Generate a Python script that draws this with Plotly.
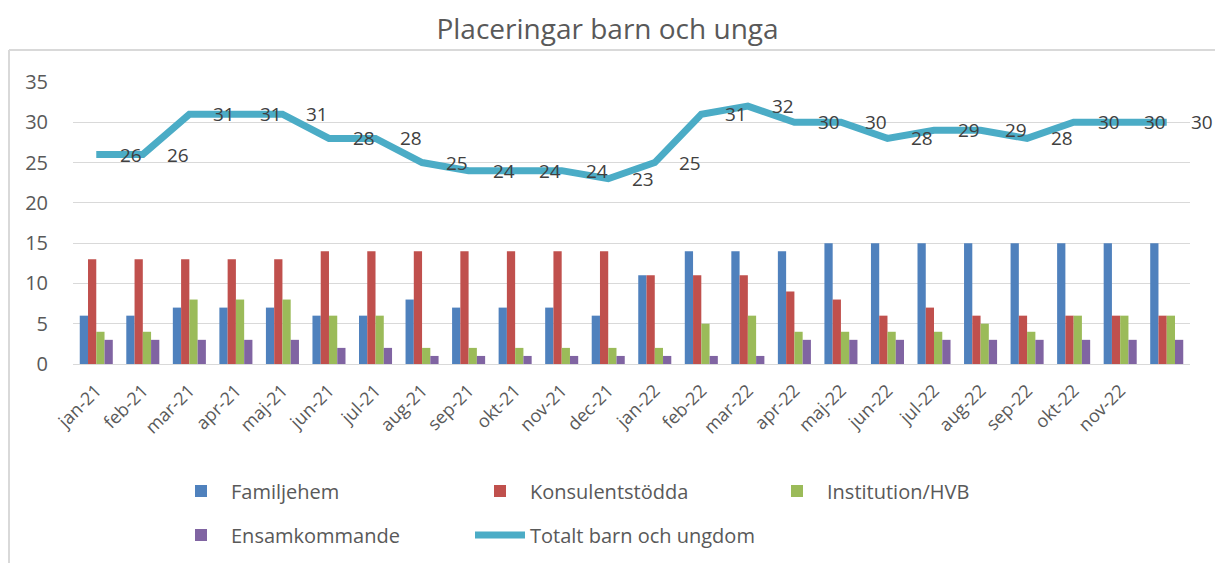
import plotly.graph_objects as go

months = ["jan-21", "feb-21", "mar-21", "apr-21", "maj-21", "jun-21", "jul-21", "aug-21",
          "sep-21", "okt-21", "nov-21", "dec-21", "jan-22", "feb-22", "mar-22", "apr-22",
          "maj-22", "jun-22", "jul-22", "aug-22", "sep-22", "okt-22", "nov-22", ""]
familjehem = [6, 6, 7, 7, 7, 6, 6, 8, 7, 7, 7, 6, 11, 14, 14, 14, 15, 15, 15, 15, 15, 15, 15, 15]
konsulent = [13, 13, 13, 13, 13, 14, 14, 14, 14, 14, 14, 14, 11, 11, 11, 9, 8, 6, 7, 6, 6, 6, 6, 6]
institution = [4, 4, 8, 8, 8, 6, 6, 2, 2, 2, 2, 2, 2, 5, 6, 4, 4, 4, 4, 5, 4, 6, 6, 6]
ensam = [3, 3, 3, 3, 3, 2, 2, 1, 1, 1, 1, 1, 1, 1, 1, 3, 3, 3, 3, 3, 3, 3, 3, 3]
totalt = [26, 26, 31, 31, 31, 28, 28, 25, 24, 24, 24, 23, 25, 31, 32, 30, 30, 28, 29, 29, 28, 30, 30, 30]
y_ticks = [0, 5, 10, 15, 20, 25, 30, 35]

x = list(range(len(months)))
FONT = "Open Sans"
GRAY = "#595959"
W, H = 1215, 563
ML, MR, MT, MB = 73, 25, 82, 199
PW, PH = W - ML - MR, H - MT - MB

fig = go.Figure()
bar_series = [
    ("Familjehem", familjehem, "#4F81BD", "legend"),
    ("Konsulentstödda", konsulent, "#C0504D", "legend2"),
    ("Institution/HVB", institution, "#9BBB59", "legend3"),
    ("Ensamkommande", ensam, "#8064A2", "legend4"),
]
for name, vals, col, lg in bar_series:
    fig.add_trace(go.Bar(x=x, y=vals, name=name, legend=lg,
                         marker=dict(color=col, line=dict(width=0))))

fig.add_trace(go.Scatter(x=x, y=totalt, name="Totalt barn och ungdom", mode="lines", legend="legend5",
                         line=dict(color="#4BACC6", width=7)))

for xi, v in zip(x, totalt):
    fig.add_annotation(x=xi, y=v, text=str(v), showarrow=False, xshift=35,
                       font=dict(family=FONT, size=19, color="#404040"))

# outer frame lines
fy = (H - MB - 50) / PH
fx = (9 - ML) / PW
fig.add_shape(type="line", xref="paper", yref="paper", x0=fx, x1=(W - ML) / PW,
              y0=fy, y1=fy, line=dict(color="#D9D9D9", width=2))
fig.add_shape(type="line", xref="paper", yref="paper", x0=fx, x1=fx,
              y0=fy, y1=(H - MB - H - 10) / PH, line=dict(color="#D9D9D9", width=2))

def leg(text_x, text_y):
    return dict(xref="container", yref="container", x=(text_x - 60) / W, xanchor="left",
                y=1 - text_y / H, yanchor="middle", itemwidth=50,
                font=dict(family=FONT, size=20, color=GRAY), bgcolor="rgba(0,0,0,0)")

fig.update_layout(
    width=W, height=H,
    margin=dict(l=ML, r=MR, t=MT, b=MB, autoexpand=False),
    paper_bgcolor="white", plot_bgcolor="white",
    barmode="group", bargap=0.29, bargroupgap=0,
    title=dict(text="Placeringar barn och unga", x=0.5, xanchor="center", y=1 - 29 / H, yanchor="middle",
               font=dict(family=FONT, size=28, color=GRAY)),
    font=dict(family=FONT, color=GRAY),
    xaxis=dict(tickmode="array", tickvals=x[:-1], ticktext=months[:-1], tickangle=-45,
               range=[-0.5, len(months) - 0.5], showgrid=False, zeroline=False,
               ticks="outside", ticklen=8, tickcolor="rgba(0,0,0,0)",
               tickfont=dict(family=FONT, size=18, color=GRAY),
               showline=True, linecolor="#D9D9D9", linewidth=1),
    yaxis=dict(range=[0, 35], tickvals=y_ticks, showgrid=True, gridcolor="#D9D9D9", gridwidth=1,
               zeroline=False, ticks="outside", ticklen=20, tickcolor="rgba(0,0,0,0)",
               tickfont=dict(family=FONT, size=20, color=GRAY)),
    legend=leg(231, 491),
    legend2=leg(530, 491),
    legend3=leg(827, 491),
    legend4=leg(231, 535),
    legend5=leg(530, 535),
    showlegend=True,
)
fig.write_html("out.html", config={"displayModeBar": False},
               post_script="document.body.style.margin='0';document.body.style.overflow='hidden';")
